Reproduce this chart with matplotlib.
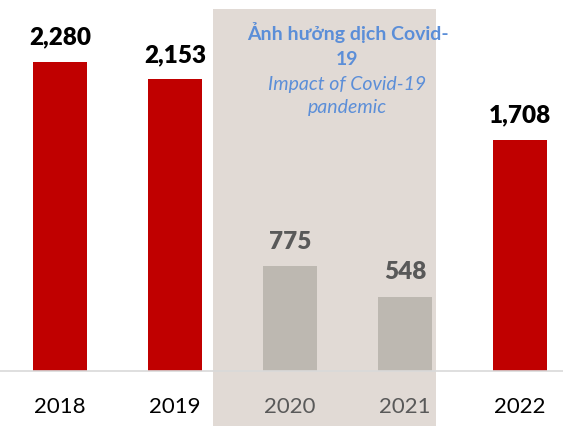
import matplotlib.pyplot as plt
from matplotlib.patches import Rectangle

years = ['2018', '2019', '2020', '2021', '2022']
values = [2280, 2153, 775, 548, 1708]
covid = [False, False, True, True, False]
note_lines = ['Ảnh hưởng dịch Covid-', '19', 'Impact of Covid-19', 'pandemic']

red = '#C00000'
grey_bar = '#BDB8B1'
shade = '#E1DAD5'
blue = '#5B8ED8'

plt.rcParams['font.family'] = ['Lato', 'DejaVu Sans']

fig = plt.figure(figsize=(5.63, 4.27), dpi=100)
ax = fig.add_axes([0, 55 / 427, 1, 372 / 427])

x = list(range(len(years)))
colors = [grey_bar if c else red for c in covid]

# covid period background
ax.add_patch(Rectangle((1.33, -406), 1.94, 3077, facecolor=shade,
                       edgecolor='none', clip_on=False, zorder=0))

ax.bar(x, values, width=0.47, color=colors, zorder=2)

for i, v in enumerate(values):
    c = '#595959' if covid[i] else 'black'
    ax.text(i, v + 135, f'{v:,}', ha='center', va='baseline',
            fontsize=17.5, fontweight='heavy', color=c, zorder=3)
    ax.text(i, -255, years[i], ha='center', va='center',
            fontsize=16, color=c, zorder=3)

# note text, one line at a time (first two bold, last two italic)
baselines = [2450, 2265, 2080, 1910]
for k, line in enumerate(note_lines):
    ax.text(2.5, baselines[k], line, ha='center', va='baseline', fontsize=14,
            fontweight='bold' if k < 2 else 'normal',
            style='normal' if k < 2 else 'italic', color=blue)

ax.set_xlim(-0.522, 4.374)
ax.set_ylim(0, 2745)
ax.set_xticks([])
ax.set_yticks([])
for s in ['top', 'right', 'left']:
    ax.spines[s].set_visible(False)
ax.spines['bottom'].set_color('#D9D9D9')
ax.spines['bottom'].set_linewidth(1.2)
ax.patch.set_alpha(0)

fig.savefig('out.png', dpi=100)
